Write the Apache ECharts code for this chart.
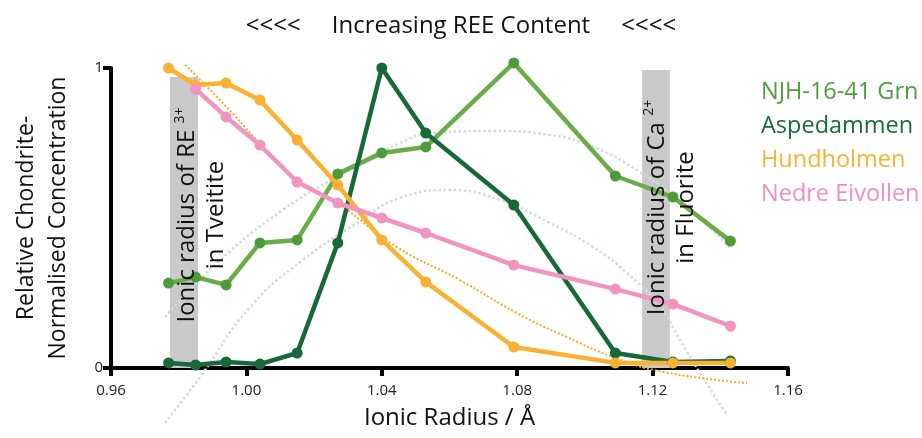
<!DOCTYPE html>
<html><head><meta charset="utf-8">
<script src="https://cdn.jsdelivr.net/npm/echarts@6/dist/echarts.min.js"></script>
<style>html,body{margin:0;padding:0;background:#fff}#c{width:922px;height:438px}</style>
</head><body><div id="c"></div>
<script>
// Ionic radii (Å) of Lu, Yb, Tm, Er, Ho, Dy, Tb, Gd, Sm, Nd, Pr, Ce
const radii = [0.977, 0.985, 0.994, 1.004, 1.015, 1.027, 1.040, 1.053, 1.079, 1.109, 1.126, 1.143];
const njh   = [0.283, 0.303, 0.277, 0.417, 0.427, 0.647, 0.717, 0.737, 1.017, 0.640, 0.570, 0.423];
const asped = [0.017, 0.010, 0.020, 0.013, 0.050, 0.417, 1.000, 0.783, 0.543, 0.050, 0.020, 0.023];
const hund  = [1.000, 0.943, 0.950, 0.893, 0.760, 0.610, 0.427, 0.287, 0.070, 0.017, 0.017, 0.017];
const nedre = [null,  0.930, 0.837, 0.743, 0.620, 0.550, 0.500, 0.450, 0.343, 0.263, 0.213, 0.140];

// dotted fitted curves
const fitX   = [0.9819, 0.9922, 1.0149, 1.0268, 1.0445, 1.0631, 1.0799, 1.0947, 1.1083, 1.1231, 1.1479];
const fitY   = [1.010, 0.893, 0.627, 0.550, 0.403, 0.293, 0.183, 0.103, 0.037, -0.013, -0.050];
const arcAX  = [0.976, 0.9913, 1.0108, 1.0268, 1.0454, 1.0551, 1.0728, 1.0897, 1.1024, 1.1154, 1.1251, 1.1340, 1.1430];
const arcAY  = [0.170, 0.350, 0.527, 0.637, 0.750, 0.783, 0.790, 0.777, 0.737, 0.660, 0.583, 0.500, 0.400];
const arcBX  = [0.976, 0.9863, 1.0011, 1.0167, 1.0327, 1.0454, 1.0601, 1.0749, 1.0897, 1.1024, 1.1124, 1.1222, 1.1281, 1.1340, 1.1420];
const arcBY  = [-0.183, -0.030, 0.203, 0.360, 0.483, 0.567, 0.593, 0.560, 0.483, 0.403, 0.317, 0.203, 0.093, -0.017, -0.157];

// shaded ionic radius bands [x0, x1, top]
const bands = [[0.9774, 0.9857, 0.97], [1.1169, 1.1251, 0.993]];
const xTicks = [0.96, 1.00, 1.04, 1.08, 1.12, 1.16];
const yTicks = [0, 1];

const seriesNames = ['NJH-16-41 Grn', 'Aspedammen', 'Hundholmen', 'Nedre Eivollen'];
const lineColors  = ['#6aac48', '#17693a', '#f8b133', '#f195c0'];
const dotColors   = ['#4c9c3c', '#17693a', '#f8b133', '#f195c0'];
const textColors  = ['#4f9d3f', '#1b6b3a', '#f9b233', '#f08fbf'];
const values = [njh, asped, hund, nedre];

const FONT = '"Open Sans", "Noto Sans", sans-serif';
const pair = (xs, ys) => xs.map((x, i) => [x, ys[i]]);

const chart = echarts.init(document.getElementById('c'));
const dataSeries = seriesNames.map((n, k) => ({
  name: n, type: 'line', z: 5, clip: false,
  data: radii.map((r, i) => values[k][i] == null ? [r, null] : [r, values[k][i]]),
  symbol: 'circle', symbolSize: 11,
  lineStyle: { color: lineColors[k], width: 4.5 },
  itemStyle: { color: dotColors[k] },
  emphasis: { disabled: true },
  animation: false
}));

chart.setOption({
  animation: false,
  title: {
    text: '<<<<     Increasing REE Content     <<<<',
    left: 'center', top: 9,
    textStyle: { fontFamily: FONT, fontSize: 24, fontWeight: 'normal', color: '#111' }
  },
  legend: {
    orient: 'vertical', left: 751, top: 73,
    itemWidth: 0, itemHeight: 0, itemGap: 6, icon: 'rect',
    selectedMode: false,
    textStyle: { fontFamily: FONT, fontSize: 23.5, lineHeight: 28 },
    data: seriesNames.map((n, k) => ({ name: n, textStyle: { color: textColors[k] } }))
  },
  grid: { left: 111, right: 134, top: 68, bottom: 70, containLabel: false, outerBoundsMode: 'none' },
  xAxis: {
    type: 'value', min: xTicks[0], max: xTicks[xTicks.length - 1], interval: 0.04,
    name: 'Ionic Radius / Å', nameLocation: 'middle', nameGap: 38,
    nameTextStyle: { fontFamily: FONT, fontSize: 24, color: '#111' },
    axisLine: { lineStyle: { color: '#000', width: 4 } },
    axisTick: { length: 8, lineStyle: { color: '#000', width: 4 } },
    axisLabel: { fontFamily: FONT, fontSize: 15, color: '#222', margin: 15,
      formatter: v => v.toFixed(2) },
    splitLine: { show: false }
  },
  yAxis: {
    type: 'value', min: yTicks[0], max: yTicks[1], interval: 1,
    name: 'Relative Chondrite-\nNormalised Concentration', nameLocation: 'middle', nameGap: 37,
    nameRotate: 90,
    nameTextStyle: { fontFamily: FONT, fontSize: 23, color: '#111', lineHeight: 32 },
    axisLine: { lineStyle: { color: '#000', width: 4 } },
    axisTick: { length: 8, lineStyle: { color: '#000', width: 4 } },
    axisLabel: { fontFamily: FONT, fontSize: 15, color: '#222', margin: 8 },
    splitLine: { show: false }
  },
  series: [
    { type: 'line', z: 1, clip: false, data: pair(arcAX, arcAY), smooth: true, symbol: 'none',
      lineStyle: { color: '#cfdcd8', width: 2.5, type: 'dotted' }, silent: true,
      markArea: { silent: true, itemStyle: { color: '#c9c9c9' },
        data: bands.map(b => [{ coord: [b[0], 0] }, { coord: [b[1], b[2]] }]) } },
    { type: 'line', z: 1, clip: false, data: pair(arcBX, arcBY), smooth: true, symbol: 'none',
      lineStyle: { color: '#cfdcd8', width: 2.5, type: 'dotted' }, silent: true },
    { type: 'line', z: 2, clip: false, data: pair(fitX, fitY), smooth: true, symbol: 'none',
      lineStyle: { color: '#f7a823', width: 2, type: 'dotted' }, silent: true },
    ...dataSeries
  ]
});

// rotated band annotations positioned through the axis scales
const p1 = chart.convertToPixel({ gridIndex: 0 }, [(bands[0][0] + bands[0][1]) / 2 + 0.0052, 0.51]);
const p2 = chart.convertToPixel({ gridIndex: 0 }, [(bands[1][0] + bands[1][1]) / 2 + 0.0045, 0.535]);
const rich = { sup: { fontSize: 14, fontFamily: FONT, verticalAlign: 'top', fill: '#111', padding: [0, 0, 10, 0] } };
chart.setOption({
  graphic: [
    { type: 'text', x: p1[0], y: p1[1], rotation: Math.PI / 2, z: 10,
      style: { text: 'Ionic radius of RE {sup|3+}\nin Tveitite', rich, font: '24px ' + FONT, fill: '#111',
        align: 'center', verticalAlign: 'middle', lineHeight: 29 } },
    { type: 'text', x: p2[0], y: p2[1], rotation: Math.PI / 2, z: 10,
      style: { text: 'Ionic radius of Ca {sup|2+}\nin Fluorite', rich, font: '24px ' + FONT, fill: '#111',
        align: 'center', verticalAlign: 'middle', lineHeight: 29 } }
  ]
});
</script></body></html>
